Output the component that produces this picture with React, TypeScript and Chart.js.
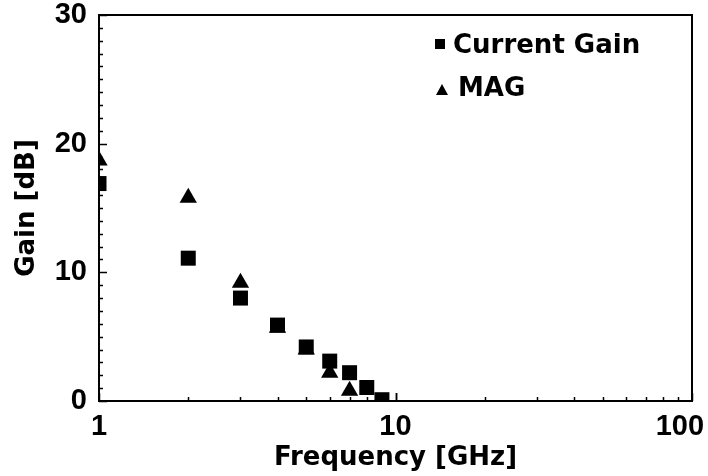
import React, { useEffect, useRef } from "react";
import { Chart, registerables } from "chart.js";

Chart.register(...registerables);

const gainFrequency = [1, 2, 3, 4, 5, 6, 7, 8, 9];
const currentGain = [16.9, 11.1, 8.0, 5.9, 4.2, 3.1, 2.2, 1.05, 0.1];
const magFrequency = [1, 2, 3, 4, 5, 6, 7];
const magGain = [18.7, 15.8, 9.2, 5.7, 4.0, 2.2, 0.8];
const xTickLabels = [1, 10, 100];
const yTickLabels = [0, 10, 20, 30];
const seriesNames = ["Current Gain", "MAG"];

const TICK_FONT = { family: "'Liberation Sans', Arial, sans-serif", weight: "bold" as const, size: 29 };
const TITLE_FONT = { family: "'DejaVu Sans', sans-serif", weight: "bold" as const, size: 26 };

const framePlugin = {
  id: "frameAndTicks",
  beforeDatasetsDraw(chart: any) {
    const { ctx, chartArea, scales } = chart;
    const { left, right, top, bottom } = chartArea;
    ctx.save();
    ctx.strokeStyle = "#000";
    ctx.lineWidth = 1.5;
    const y = scales.y;
    for (let v = y.min; v <= y.max; v += 1) {
      const py = Math.round(y.getPixelForValue(v)) + 0.5;
      const len = v % 10 === 0 ? 8 : 4;
      ctx.beginPath();
      ctx.moveTo(left, py);
      ctx.lineTo(left + len, py);
      ctx.stroke();
    }
    const x = scales.x;
    for (let d = 1; d < 100; d *= 10) {
      for (let m = 1; m <= 10; m++) {
        const v = d * m;
        const px = Math.round(x.getPixelForValue(v)) + 0.5;
        const len = m === 1 || m === 10 ? 8 : 4;
        ctx.beginPath();
        ctx.moveTo(px, bottom);
        ctx.lineTo(px, bottom - len);
        ctx.stroke();
      }
    }
    ctx.lineWidth = 2;
    ctx.strokeRect(left, top, right - left, bottom - top);
    ctx.restore();
  },
  afterDraw(chart: any) {
    const { ctx } = chart;
    ctx.save();
    ctx.fillStyle = "#000";
    ctx.font = `bold ${TITLE_FONT.size}px ${TITLE_FONT.family}`;
    ctx.textBaseline = "middle";
    ctx.textAlign = "left";
    const ds = chart.data.datasets;
    ctx.fillRect(435, 39, 10, 10);
    ctx.fillText(ds[0].label, 453, 46);
    ctx.beginPath();
    ctx.moveTo(442, 84);
    ctx.lineTo(448, 95);
    ctx.lineTo(436, 95);
    ctx.closePath();
    ctx.fill();
    ctx.fillText(ds[1].label, 458, 89);
    ctx.restore();
  },
};

export default function App() {
  const canvasRef = useRef<HTMLCanvasElement | null>(null);

  useEffect(() => {
    document.body.style.margin = "0";
    const canvas = canvasRef.current;
    if (!canvas) return;
    const chart = new Chart(canvas, {
      type: "scatter",
      data: {
        datasets: [
          {
            label: seriesNames[0],
            data: gainFrequency.map((f, i) => ({ x: f, y: currentGain[i] })),
            pointStyle: "rect",
            pointRadius: 10.6,
            backgroundColor: "#000",
            borderColor: "#000",
            borderWidth: 0,
          },
          {
            label: seriesNames[1],
            data: magFrequency.map((f, i) => ({ x: f, y: magGain[i] })),
            pointStyle: "triangle",
            pointRadius: 10,
            backgroundColor: "#000",
            borderColor: "#000",
            borderWidth: 0,
          },
        ],
      },
      options: {
        responsive: false,
        animation: false,
        devicePixelRatio: 1,
        layout: { padding: { top: 15, right: 16, left: 0, bottom: 0 } },
        plugins: { legend: { display: false }, tooltip: { enabled: false } },
        scales: {
          x: {
            type: "logarithmic",
            min: 1,
            max: 100,
            grid: { display: false },
            border: { display: false },
            ticks: {
              autoSkip: false,
              maxRotation: 0,
              padding: 1,
              color: "#000",
              font: TICK_FONT,
              callback: (v: any) => {
                const n = Number(v);
                if (!xTickLabels.includes(n)) return "";
                return n === 100 ? String(n) + "   " : String(n);
              },
            },
            title: {
              display: true,
              text: "Frequency [GHz]",
              color: "#000",
              font: TITLE_FONT,
              padding: { top: 0, bottom: 2 },
            },
            afterFit: (s: any) => {
              s.height = 75;
              s.paddingLeft = 0;
              s.paddingRight = 0;
            },
          },
          y: {
            min: 0,
            max: 30,
            grid: { display: false },
            border: { display: false },
            ticks: {
              stepSize: 10,
              padding: 4,
              color: "#000",
              font: TICK_FONT,
              callback: (v: any) => (yTickLabels.includes(Number(v)) ? String(v) : ""),
            },
            title: {
              display: true,
              text: "Gain [dB]",
              color: "#000",
              font: TITLE_FONT,
              padding: { top: 12, bottom: 0 },
            },
            afterFit: (s: any) => {
              s.width = 99;
              s.paddingTop = 0;
              s.paddingBottom = 0;
            },
          },
        },
      },
      plugins: [framePlugin],
    });
    return () => chart.destroy();
  }, []);

  return <canvas ref={canvasRef} width={708} height={476} style={{ display: "block" }} />;
}
